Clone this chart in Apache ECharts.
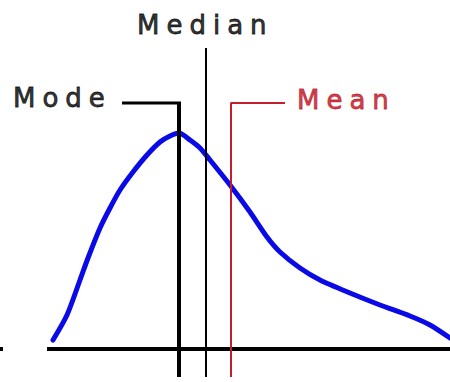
<!DOCTYPE html>
<html style="height: 100%">

<head>
    <meta charset="utf-8">
    <style>
        /* the reference lettering is spaced wide */
        #chart text { letter-spacing: 7px; }
    </style>
</head>

<body style="height: 100%; margin: 0; background: #fff">
    <div id="chart" style="width: 450px; height: 382px"></div>

    <script type="text/javascript" src="https://cdn.jsdelivr.net/npm/echarts@6/dist/echarts.min.js"></script>

    <script type="text/javascript">
        // skewed distribution curve, x along the baseline, y = height above it
        var curveX = [53, 67, 80, 88, 100, 110, 120, 133, 147, 160, 170, 179, 190, 200, 210, 230, 250, 267, 280, 300, 320, 350, 380, 410, 430, 450];
        var curveY = [9, 34, 69, 91, 121, 141, 159, 177, 194, 207, 213, 216, 209, 201, 189, 164, 137, 112, 97, 81, 69, 56, 44, 33, 24, 11];

        var mode = 179;
        var median = 206;
        var mean = 231;

        var labelNames = ['Mode', 'Median', 'Mean'];
        var labelX = [13, 137, 297];
        var labelY = [251, 324, 249];

        var dom = document.getElementById("chart");
        var myChart = echarts.init(dom, null, { renderer: 'svg' });

        var curve = curveX.map(function (x, i) { return [x, curveY[i]]; });
        var labels = labelNames.map(function (n, i) {
            var c = n === 'Mean' ? '#c0101e' : '#000';
            return {
                value: [labelX[i], labelY[i], n],
                label: { color: c, textBorderColor: c }
            };
        });

        var option = {
            animation: false,
            grid: { left: 0, right: 0, top: 0, bottom: 0 },
            xAxis: { type: 'value', min: 0, max: 450, show: false },
            yAxis: { type: 'value', min: -33, max: 349, show: false },
            series: [
                {
                    name: 'baseline',
                    type: 'line',
                    symbol: 'none',
                    lineStyle: { color: '#000', width: 4 },
                    data: [[47, 0], [450, 0]]
                },
                {
                    name: 'tick',
                    type: 'line',
                    symbol: 'none',
                    lineStyle: { color: '#000', width: 4 },
                    data: [[0, 0], [3, 0]]
                },
                {
                    name: 'curve',
                    type: 'line',
                    symbol: 'none',
                    smooth: 0.25,
                    lineStyle: { color: '#0a0ae6', width: 5, cap: 'round', join: 'round' },
                    data: curve
                },
                {
                    name: 'mode leader',
                    type: 'line',
                    symbol: 'none',
                    lineStyle: { color: '#000', width: 3 },
                    data: [[122, 246], [mode + 2, 246]]
                },
                {
                    name: 'mode',
                    type: 'line',
                    symbol: 'none',
                    lineStyle: { color: '#000', width: 4 },
                    data: [[mode, 247], [mode, -28]]
                },
                {
                    name: 'median',
                    type: 'line',
                    symbol: 'none',
                    lineStyle: { color: '#000', width: 2 },
                    data: [[median, 301], [median, -28]]
                },
                {
                    name: 'mean',
                    type: 'line',
                    symbol: 'none',
                    lineStyle: { color: '#c41e2c', width: 2 },
                    data: [[285, 246], [mean, 246], [mean, -28]]
                },
                {
                    name: 'labels',
                    type: 'scatter',
                    symbolSize: 0,
                    label: {
                        show: true,
                        position: 'right',
                        distance: 0,
                        fontFamily: 'DejaVu Sans',
                        fontSize: 26,
                        textBorderWidth: 0.8,
                        formatter: function (p) { return p.value[2]; }
                    },
                    data: labels
                }
            ]
        };

        myChart.setOption(option);
    </script>
</body>

</html>
